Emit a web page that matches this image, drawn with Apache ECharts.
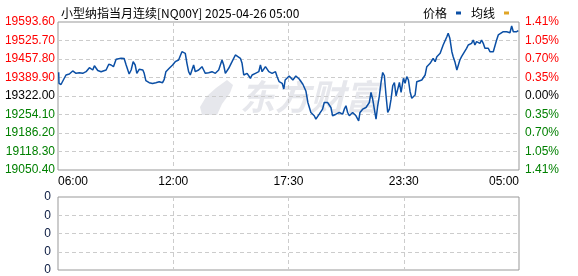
<!DOCTYPE html>
<html>
<head>
<meta charset="utf-8">
<script src="https://cdn.jsdelivr.net/npm/echarts@6/dist/echarts.min.js"></script>
<style>html,body{margin:0;padding:0;background:#fff}#c{width:578px;height:276px}</style>
</head>
<body>
<div id="c"></div>
<script>
// ---- data ----
var title = '小型纳指当月连续[NQ00Y] 2025-04-26 05:00';
var timeLabels = ['06:00', '12:00', '17:30', '23:30', '05:00'];
var basePrice = 19050.40;     // bottom of price scale
var prevClose = 19322.00;     // middle line / 0.00%
var priceStep = 67.90;
var times = [2,3,9,16,24,34,44,54,64,74,84,94,104,109,119,129,134,144,152,159,166,174,189,198,204,209,213,219,225,231,236,243,254,258,263,273,283,293,303,313,318,323,333,343,
351,361,371,376,381,386,391,396,401,406,411,421,431,436,441,451,461,471,476,481,491,496,501,511,521,531,536,546,551,556,566,576,581,591,601,606,611,621,631,641,651,656,662,671,676,680,
692,703,712,722,733,742,748,757,767,772,777,782,792,797,807,812,817,822,827,832,842,852,857,862,867,872,882,892,900,904,912,922,932,937,942,947,952,957,962,967,972,977,982,987,992,997,1002,1007,1012,1017,1022,1027,
1034,1039,1044,1049,1054,1059,1064,1069,1074,1079,1089,1099,1104,1114,1123,1129,1134,1144,1153,1164,1168,1173,1179,1183,1188,1194,1198,1203,1208,1213,1223,1228,1238,1243,1248,1253,1263,1268,1273,1278,1288,1293,1298,1303,1308,1313,1318,1323,1333,1343,1353,1358,1363,1373,1378];
var prices = [19409.0,19368.6,19364.2,19380.7,19399.1,19402.8,19413.8,19405.3,19407.5,19405.3,
19411.2,19425.9,19417.4,19433.2,19415.6,19411.2,19405.3,19417.4,19438.4,19435.8,
19429.6,19456.7,19460.4,19459.6,19435.8,19429.6,19402.8,19417.4,19447.9,19435.8,
19405.3,19420.0,19417.4,19405.3,19378.2,19370.8,19367.9,19370.8,19374.5,19370.8,
19383.3,19411.2,19423.7,19435.8,
19447.9,19454.1,19484.6,19490.8,19478.7,19442.0,19411.2,19399.1,19405.3,19435.8,
19411.2,19417.4,19429.6,19417.4,19405.3,19407.5,19411.2,19405.3,19399.1,19417.4,
19454.1,19435.8,19405.3,19423.7,19447.9,19472.5,19472.5,19460.4,19442.0,19399.1,
19405.3,19387.0,19399.1,19405.3,19411.2,19435.8,19411.2,19429.6,19411.2,19405.3,
19411.2,19392.9,19374.5,19368.6,19347.7,19380.7,
19395.4,19380.7,19395.4,19384.4,19365.3,19340.4,19298.2,19261.5,19249.4,19236.9,
19231.0,19255.2,19273.6,19298.2,19298.2,19291.9,19279.8,19249.4,19243.1,19255.2,
19261.5,19255.2,19273.6,19286.1,19261.5,19249.4,19261.5,19249.4,19231.0,19261.5,
19273.6,19279.8,19298.2,19334.9,19310.3,19273.6,19236.9,19286.1,19322.8,19371.6,
19408.3,19396.2,19322.8,19261.5,19273.6,19310.3,19359.5,19371.6,19322.8,19347.0,
19371.6,19334.9,
19387.0,19368.6,19392.9,19380.7,19337.8,19313.6,19307.3,19325.7,19374.5,19380.7,
19380.7,19399.1,19429.6,19442.0,19460.4,19447.9,19466.3,19478.7,19509.2,19539.7,
19552.1,19533.8,19484.6,19466.3,19447.9,19417.4,19411.2,19454.1,19466.3,19472.5,
19497.1,19509.2,19515.4,19527.5,19509.2,19521.3,19515.4,19527.5,19515.4,19497.1,
19497.1,19484.6,19478.7,19484.6,19478.7,19527.5,19545.9,19552.1,19558.0,19558.0,
19554.3,19578.9,19558.0,19558.0,19561.7];
var volumeTicks = ['0', '0', '0', '0', '0'];
var totalMinutes = 1380;

// ---- chart ----
var chart = echarts.init(document.getElementById('c'), null, {renderer: 'canvas'});
var lineData = times.map(function (t, i) { return [t, +(prices[i] - basePrice).toFixed(2)]; });
var mid = prevClose - basePrice;
function priceColor(v) {
  var d = v - mid;
  if (Math.abs(d) < 0.01) return '#000000';
  return d > 0 ? '#ff0000' : '#008000';
}
var labelFont = 'Liberation Sans, Arial, sans-serif';
var splitDash = {show: true, showMinLine: false, showMaxLine: false, lineStyle: {color: '#cccccc', type: [4, 3], width: 1}};

chart.setOption({
  animation: false,
  backgroundColor: '#ffffff',
  title: {
    text: title, left: 56, top: 2,
    textStyle: {fontSize: 12, fontWeight: 'normal', color: '#000', fontFamily: 'Noto Sans CJK SC, sans-serif'}
  },
  legend: {
    right: 64, top: 2, icon: 'rect', itemWidth: 5, itemHeight: 3, itemGap: 10, align: 'right',
    textStyle: {fontSize: 12, color: '#000', fontFamily: 'Noto Sans CJK SC, sans-serif', padding: [0, 4, 0, 0]},
    data: ['价格', '均线']
  },
  graphic: [
    {type: 'polygon', z: 0, shape: {points: [[227,80],[233,85],[230,93],[222,104],[217,115],[202,115],[200,107],[206,97],[216,88]]},
     style: {fill: '#e6e7ec'}},
    {type: 'text', z: 0, left: 240, top: 79,
     style: {text: '东方财富', fontSize: 35, fontWeight: 'bold', fontStyle: 'italic', fill: '#e6e7ec', fontFamily: 'Noto Sans CJK SC, sans-serif'}}
  ],
  grid: [
    {left: 58, right: 59, top: 22, height: 148, show: true, borderColor: '#999999', borderWidth: 1, backgroundColor: 'transparent'},
    {left: 58, right: 59, top: 197, height: 73, show: true, borderColor: '#999999', borderWidth: 1, backgroundColor: 'transparent'}
  ],
  xAxis: [
    {type: 'value', gridIndex: 0, min: 0, max: totalMinutes, interval: totalMinutes / 4,
     axisLine: {show: false}, axisTick: {show: false}, splitLine: splitDash,
     axisLabel: {show: true, margin: 6, fontSize: 12, color: '#000', fontFamily: labelFont,
       alignMinLabel: 'left', alignMaxLabel: 'right',
       formatter: function (v) { return timeLabels[Math.round(v / (totalMinutes / 4))] || ''; }}},
    {type: 'value', gridIndex: 1, min: 0, max: totalMinutes, interval: totalMinutes / 4,
     axisLine: {show: false}, axisTick: {show: false}, splitLine: splitDash, axisLabel: {show: false}}
  ],
  yAxis: [
    {type: 'value', gridIndex: 0, min: 0, max: priceStep * 8, interval: priceStep,
     axisLine: {show: false}, axisTick: {show: false}, splitLine: splitDash,
     axisLabel: {margin: 3, fontSize: 12, fontFamily: labelFont,
       formatter: function (v) { return (basePrice + v).toFixed(2); },
       color: function (v) { return priceColor(v); }}},
    {type: 'value', gridIndex: 0, position: 'right', min: 0, max: priceStep * 8, interval: priceStep,
     axisLine: {show: false}, axisTick: {show: false}, splitLine: {show: false},
     axisLabel: {margin: 6, fontSize: 12, fontFamily: labelFont,
       formatter: function (v) { return (Math.abs(v - mid) / prevClose * 100).toFixed(2) + '%'; },
       color: function (v) { return priceColor(v); }}},
    {type: 'value', gridIndex: 1, min: 0, max: 4, interval: 1,
     axisLine: {show: false}, axisTick: {show: false}, splitLine: splitDash,
     axisLabel: {margin: 7, fontSize: 12, fontFamily: labelFont, color: '#0a1a40',
       formatter: function (v) { return volumeTicks[v] || '0'; }}}
  ],
  series: [
    {name: '价格', type: 'line', xAxisIndex: 0, yAxisIndex: 0, data: lineData, showSymbol: false, symbol: 'none',
     lineStyle: {color: '#0b4fa5', width: 1.5}, itemStyle: {color: '#0b4fa5'}, z: 3},
    {name: '均线', type: 'line', xAxisIndex: 0, yAxisIndex: 0, data: [], showSymbol: false,
     lineStyle: {color: '#e0a526', width: 1}, itemStyle: {color: '#e0a526'}}
  ]
});
</script>
</body>
</html>
